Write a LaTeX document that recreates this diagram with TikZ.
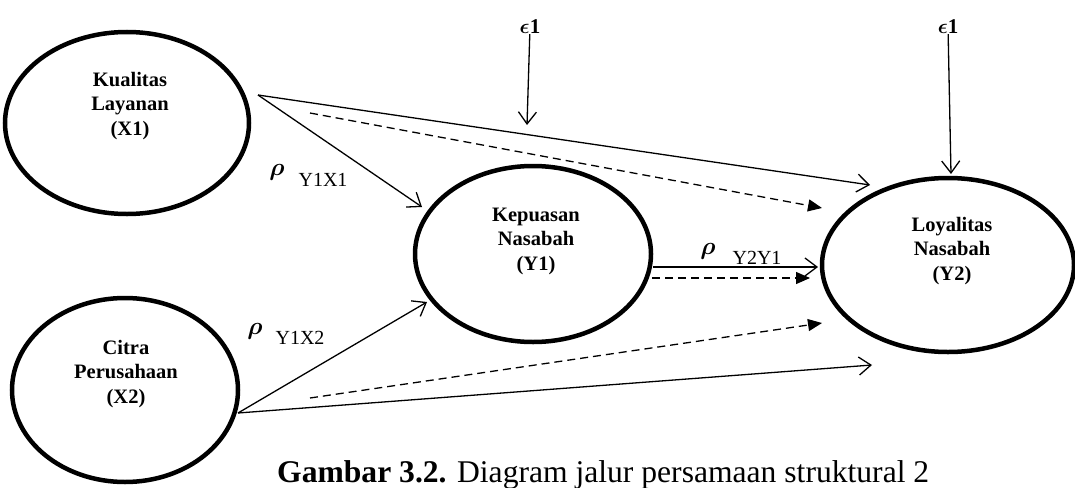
\documentclass[tikz,border=0pt]{standalone}
\usepackage{fontspec}
\setmainfont{Liberation Serif}
\usepackage{amsmath}
\usetikzlibrary{shapes.geometric,arrows.meta}
\tikzset{
  latent/.style={draw, ellipse, line width=4.5pt, inner sep=0pt},
  vartext/.style={align=center, inner sep=0pt, font=\bfseries\fontsize{20.5}{24.5}\selectfont},
  solidarrow/.style={line width=1.3pt, -{Straight Barb[length=12pt,width=18pt,line width=1.3pt]}},
  dasharrow/.style={line width=1.3pt, dash pattern=on 8pt off 5pt, -{Triangle[length=14pt,width=12pt]}},
  coef/.style={font=\fontsize{20}{24}\selectfont, inner sep=0pt},
  rho/.style={font=\fontsize{25}{25}\selectfont, inner sep=0pt},
  errlab/.style={font=\fontsize{21}{21}\selectfont, inner sep=0pt},
  captxt/.style={font=\fontsize{31.6}{33}\selectfont, inner sep=0pt, anchor=base west},
}
\begin{document}
\begin{tikzpicture}[x=1pt,y=-1pt]
\useasboundingbox (0,0) rectangle (1075,487);

% latent variables
\node[latent, minimum width=244pt, minimum height=182pt] (x1) at (127,123) {};
\node[latent, minimum width=226pt, minimum height=184pt] (x2) at (125,390) {};
\node[latent, minimum width=236pt, minimum height=176pt] (y1) at (533,254) {};
\node[latent, minimum width=252pt, minimum height=174pt] (y2) at (948,265) {};

\node[vartext] (x1t) at (130,106) {Kualitas\\Layanan\\(X1)};
\node[vartext] (x2t) at (126,374) {Citra\\Perusahaan\\(X2)};
\node[vartext] (y1t) at (536,241) {Kepuasan\\Nasabah\\(Y1)};
\node[vartext] (y2t) at (952,251) {Loyalitas\\Nasabah\\(Y2)};

% connector end points
\coordinate (x1o) at (258,95);
\coordinate (x1d) at (310,113);
\coordinate (x2o) at (238,413);
\coordinate (x2d) at (310,398);
\coordinate (y1a) at (422,207);
\coordinate (y1b) at (427,302);
\coordinate (y1o) at (653,267);
\coordinate (y1d) at (652,278);
\coordinate (y2a) at (870,185);
\coordinate (y2b) at (822,208);
\coordinate (y2c) at (818,267);
\coordinate (y2d) at (810,278);
\coordinate (y2e) at (822,323);
\coordinate (y2f) at (872,365);
\coordinate (e1t) at (527,125);
\coordinate (e2t) at (951,174);

% error terms
\node[errlab] (e1) at (530,27) {$\boldsymbol{\epsilon}$\textbf{1}};
\node[errlab] (e2) at (948,27) {$\boldsymbol{\epsilon}$\textbf{1}};
\draw[solidarrow] (e1) -- (e1t);
\draw[solidarrow] (e2) -- (e2t);

% paths from X1
\draw[solidarrow] (x1o) -- (y1a);
\draw[solidarrow] (x1o) -- (y2a);
\draw[dasharrow] (x1d) -- (y2b);

% paths from X2
\draw[solidarrow] (x2o) -- (y1b);
\draw[solidarrow] (x2o) -- (y2f);
\draw[dasharrow] (x2d) -- (y2e);

% paths from Y1
\draw[solidarrow] (y1o) -- (y2c);
\draw[dasharrow] (y1d) -- (y2d);

% coefficient labels
\node[rho] (r1) at (277,172) {$\boldsymbol{\rho}$};
\node[coef] (c1) at (323,180) {Y1X1};
\node[rho] (r2) at (255,331) {$\boldsymbol{\rho}$};
\node[coef] (c2) at (300,338) {Y1X2};
\node[rho] (r3) at (708,251) {$\boldsymbol{\rho}$};
\node[coef] (c3) at (757,258) {Y2Y1};

% caption
\node[captxt] (cap) at (277,482) {\textbf{Gambar 3.2.} Diagram jalur persamaan struktural 2};
\end{tikzpicture}
\end{document}
